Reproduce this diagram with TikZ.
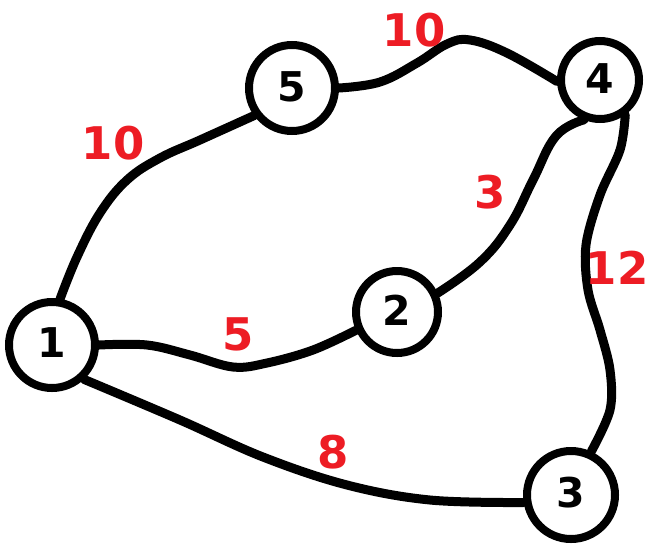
\documentclass[tikz,border=0pt]{standalone}
\usepackage{fontspec}
\setmainfont{DejaVu Sans}
\usetikzlibrary{backgrounds}
\definecolor{weightred}{RGB}{237,28,36}
\tikzset{
  vertex/.style={circle, draw=black, line width=8pt, fill=white, inner sep=0pt,
    font=\fontsize{41}{41}\selectfont\bfseries},
  link/.style={draw=black, line width=9pt, line join=round, line cap=round},
  weight/.style={text=weightred, inner sep=0pt,
    font=\fontsize{45}{45}\selectfont\bfseries}
}
\begin{document}
\begin{tikzpicture}[x=1pt, y=-1pt]
  \useasboundingbox (0,0) rectangle (650,544);

  % vertices
  \node[vertex, minimum size=86pt] (n1) at (52,345) {\raisebox{5pt}{1}};
  \node[vertex, minimum size=82pt] (n2) at (397,312) {\raisebox{3pt}{2}};
  \node[vertex, minimum size=88pt] (n3) at (571,495) {\raisebox{6pt}{3}};
  \node[vertex, minimum size=78pt] (n4) at (600,80) {\raisebox{2pt}{4}};
  \node[vertex, minimum size=86pt] (n5) at (292,88) {\raisebox{3pt}{5}};

  % edges, freehand-looking smooth curves behind the vertices
  \begin{scope}[on background layer]
    \draw[link] plot[smooth, tension=0.65] coordinates
      {(n1.80) (77,257) (100,213) (127,180) (160,158) (200,140) (n5.216)};
    \draw[link] plot[smooth, tension=0.65] coordinates
      {(n5.0) (380,82) (417,63) (447,44) (470,40) (507,53) (n4.182)};
    \draw[link] plot[smooth, tension=0.7] coordinates
      {(n4.248) (556,136) (533,180) (510,225) (480,262) (n2.25)};
    \draw[link] plot[smooth, tension=0.55] coordinates
      {(n4.306) (620,150) (600,195) (586,245) (588,290) (600,330) (610,370) (610,410) (n3.65)};
    \draw[link] plot[smooth, tension=0.6] coordinates
      {(n1.0) (147,345) (190,355) (233,367) (267,363) (313,350) (n2.204)};
    \draw[link] plot[smooth, tension=0.6] coordinates
      {(n1.313) (180,420) (263,457) (347,485) (430,500) (n3.189)};
  \end{scope}

  % edge weights
  \node[weight] (w54) at (414,30) {10};
  \node[weight] (w15) at (113,143) {10};
  \node[weight] (w42) at (490,192) {3};
  \node[weight] (w43) at (617,268) {12};
  \node[weight] (w12) at (238,334) {5};
  \node[weight] (w13) at (333,452) {8};
\end{tikzpicture}
\end{document}
